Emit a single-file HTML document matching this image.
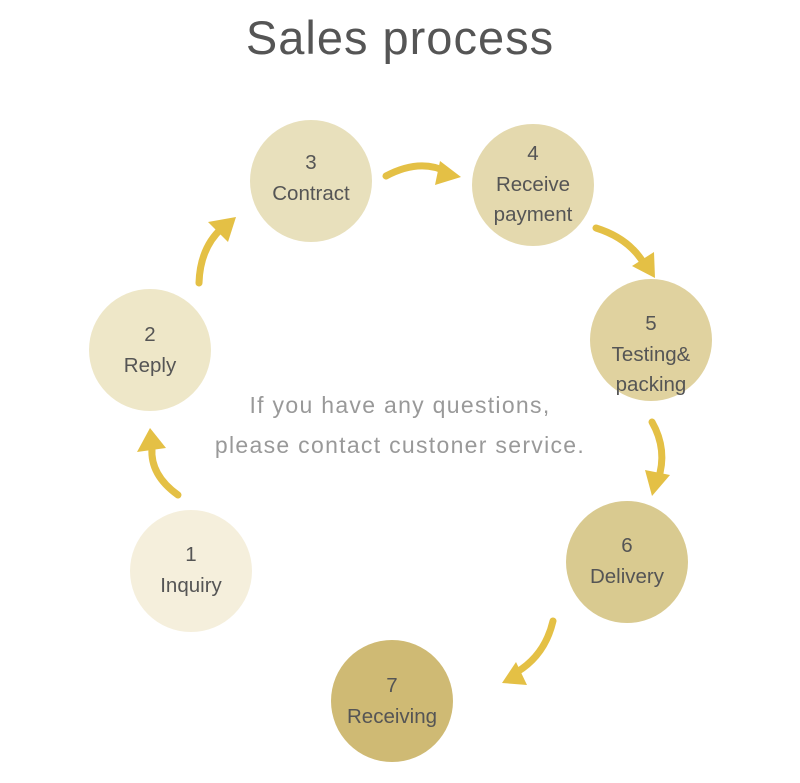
<!DOCTYPE html>
<html><head><style>
body{margin:0;background:#fff;width:800px;height:778px;overflow:hidden;font-family:"Liberation Sans",sans-serif}
</style></head><body>
<svg width="800" height="778" xmlns="http://www.w3.org/2000/svg" font-family="Liberation Sans, sans-serif">
<text x="400" y="54" text-anchor="middle" font-size="47" fill="#555" letter-spacing="1">Sales process</text>
<g>
<circle cx="191" cy="571" r="61" fill="#f5efdc"/>
<circle cx="150" cy="350" r="61" fill="#eee7c8"/>
<circle cx="311" cy="181" r="61" fill="#e8e0bc"/>
<circle cx="533" cy="185" r="61" fill="#e4d9ae"/>
<circle cx="651" cy="340" r="61" fill="#e0d29f"/>
<circle cx="627" cy="562" r="61" fill="#d9ca90"/>
<circle cx="392" cy="701" r="61" fill="#cfba74"/>
</g>
<g font-size="20.5" fill="#555" text-anchor="middle">
<text x="191" y="561">1</text><text x="191" y="592">Inquiry</text>
<text x="150" y="341">2</text><text x="150" y="372">Reply</text>
<text x="311" y="169">3</text><text x="311" y="200">Contract</text>
<text x="533" y="160">4</text><text x="533" y="191">Receive</text><text x="533" y="221">payment</text>
<text x="651" y="330">5</text><text x="651" y="361">Testing&amp;</text><text x="651" y="391">packing</text>
<text x="627" y="552">6</text><text x="627" y="583">Delivery</text>
<text x="392" y="692">7</text><text x="392" y="723">Receiving</text>
</g>
<g font-size="23" fill="#999" text-anchor="middle" letter-spacing="1.3">
<text x="400" y="413">If you have any questions,</text>
<text x="400" y="453">please contact custoner service.</text>
</g>
<g fill="none" stroke="#e4c045" stroke-width="7" stroke-linecap="round">
<path d="M178 495 Q150 475 152 448"/>
<path d="M199 283 Q200 248 222 228"/>
<path d="M386 176 Q420 158 447 172"/>
<path d="M596 228 Q628 238 643 262"/>
<path d="M652 422 Q668 450 658 480"/>
<path d="M553 621 Q545 655 517 672"/>
</g>
<g fill="#e4c045">
<polygon points="150,428 137,452 166,448"/>
<polygon points="236,217 208,222 228,242"/>
<polygon points="461,177 440,161 435,185"/>
<polygon points="655,278 654,252 632,266"/>
<polygon points="652,496 670,475 645,470"/>
<polygon points="502,683 527,685 516,662"/>
</g>
</svg>
</body></html>
